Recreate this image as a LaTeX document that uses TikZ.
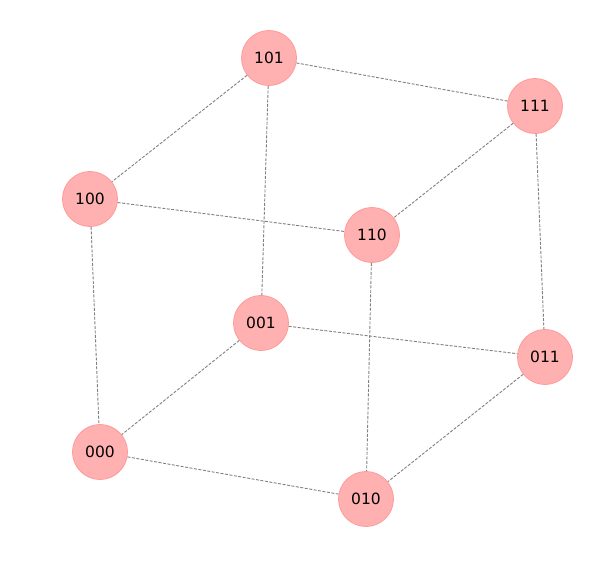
\documentclass[tikz,border=0pt]{standalone}
\usepackage{fontspec}
\setmainfont{DejaVu Sans}
\begin{document}
\begin{tikzpicture}[x=1pt,y=-1pt,
  vert/.style={circle,fill=pinkfill,draw=pinkedge,line width=0.8pt,minimum size=55pt,inner sep=0pt,font=\fontsize{15.5}{17}\selectfont},
  edge/.style={draw=gray,line width=0.9pt,dash pattern=on 3pt off 1.5pt}]
\definecolor{pinkfill}{HTML}{FFB0B0}
\definecolor{pinkedge}{HTML}{FF9A9A}
\useasboundingbox (0,0) rectangle (603,575);
\node[vert] (101) at (269,58) {101};
\node[vert] (111) at (535,106) {111};
\node[vert] (100) at (90,199) {100};
\node[vert] (110) at (372,235) {110};
\node[vert] (001) at (261,323) {001};
\node[vert] (011) at (545,357) {011};
\node[vert] (000) at (100,452) {000};
\node[vert] (010) at (366,499) {010};
\path[edge] (101) -- (111);
\path[edge] (101) -- (100);
\path[edge] (101) -- (001);
\path[edge] (111) -- (110);
\path[edge] (111) -- (011);
\path[edge] (100) -- (110);
\path[edge] (100) -- (000);
\path[edge] (110) -- (010);
\path[edge] (001) -- (011);
\path[edge] (001) -- (000);
\path[edge] (011) -- (010);
\path[edge] (000) -- (010);
\end{tikzpicture}
\end{document}
